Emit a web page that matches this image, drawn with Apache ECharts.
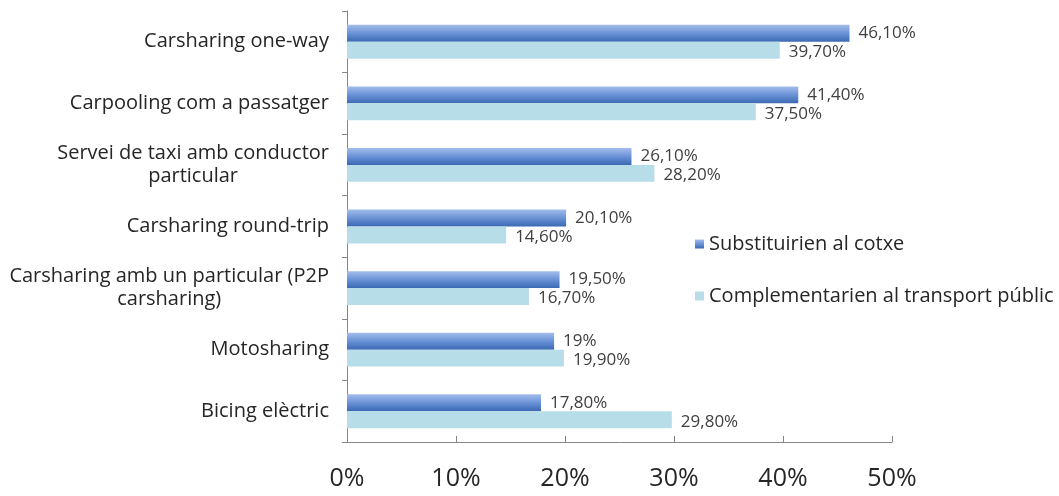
<!DOCTYPE html>
<html><head><meta charset="utf-8">
<script src="https://cdn.jsdelivr.net/npm/echarts@6/dist/echarts.min.js"></script>
<style>html,body{margin:0;padding:0;background:#fff}#c{width:1059px;height:496px}</style>
</head><body><div id="c"></div>
<script>
const categories = [
  "Carsharing one-way",
  "Carpooling com a passatger",
  "Servei de taxi amb conductor\nparticular",
  "Carsharing round-trip",
  "Carsharing amb un particular (P2P\ncarsharing)",
  "Motosharing",
  "Bicing elèctric"
];
const seriesNames = ["Substituirien al cotxe", "Complementarien al transport públic"];
const substituirien = [46.1, 41.4, 26.1, 20.1, 19.5, 19, 17.8];
const complementarien = [39.7, 37.5, 28.2, 14.6, 16.7, 19.9, 29.8];
const xTicks = [0, 10, 20, 30, 40, 50];

function fmt(v) {
  return (v % 1 === 0 ? String(v) : v.toFixed(2).replace('.', ',')) + '%';
}
const FONT = '"Open Sans"';
const chart = echarts.init(document.getElementById('c'), null, {renderer: 'canvas'});
chart.setOption({
  animation: false,
  backgroundColor: '#fff',
  grid: {left: 347, right: 167, top: 11, bottom: 54, containLabel: false},
  legend: {
    orient: 'vertical', left: 690, top: 229,
    itemWidth: 9, itemHeight: 9, itemGap: 32,
    icon: 'rect',
    textStyle: {fontFamily: FONT, fontSize: 20, color: '#262626'},
    data: seriesNames
  },
  xAxis: {
    type: 'value', min: 0, max: 50, interval: 10,
    axisLine: {show: true, lineStyle: {color: '#868686'}},
    axisTick: {show: true, inside: true, length: 6, lineStyle: {color: '#868686'}},
    splitLine: {show: false},
    axisLabel: {margin: 24, fontFamily: FONT, fontSize: 25, color: '#262626',
      formatter: v => xTicks.indexOf(v) >= 0 ? v + '%' : ''}
  },
  yAxis: {
    type: 'category', data: categories, inverse: true,
    axisLine: {show: true, lineStyle: {color: '#868686'}},
    axisTick: {show: true, length: 5, lineStyle: {color: '#868686'}},
    axisLabel: {
      margin: 18, fontFamily: FONT, fontSize: 20, color: '#262626', lineHeight: 23,
      formatter: v => v.split('\n').map(s => '{c|' + s + '}').join('\n'),
      rich: {c: {align: 'center', fontFamily: FONT, fontSize: 20, color: '#262626', lineHeight: 23}}
    }
  },
  series: [
    {
      name: seriesNames[0], type: 'bar', data: substituirien,
      barCategoryGap: '45%', barGap: '0%',
      itemStyle: {color: new echarts.graphic.LinearGradient(0, 0, 0, 1, [
        {offset: 0, color: '#a3bdec'}, {offset: 0.5, color: '#6a92d6'}, {offset: 1, color: '#3a69b3'}])},
      label: {show: true, position: 'right', distance: 9, fontFamily: FONT, fontSize: 17, color: '#404040',
        formatter: p => fmt(p.value)}
    },
    {
      name: seriesNames[1], type: 'bar', data: complementarien,
      barCategoryGap: '45%', barGap: '0%',
      itemStyle: {color: '#b7dde8'},
      label: {show: true, position: 'right', distance: 9, offset: [0, 2], fontFamily: FONT, fontSize: 17, color: '#404040',
        formatter: p => fmt(p.value)}
    }
  ]
});
</script></body></html>
